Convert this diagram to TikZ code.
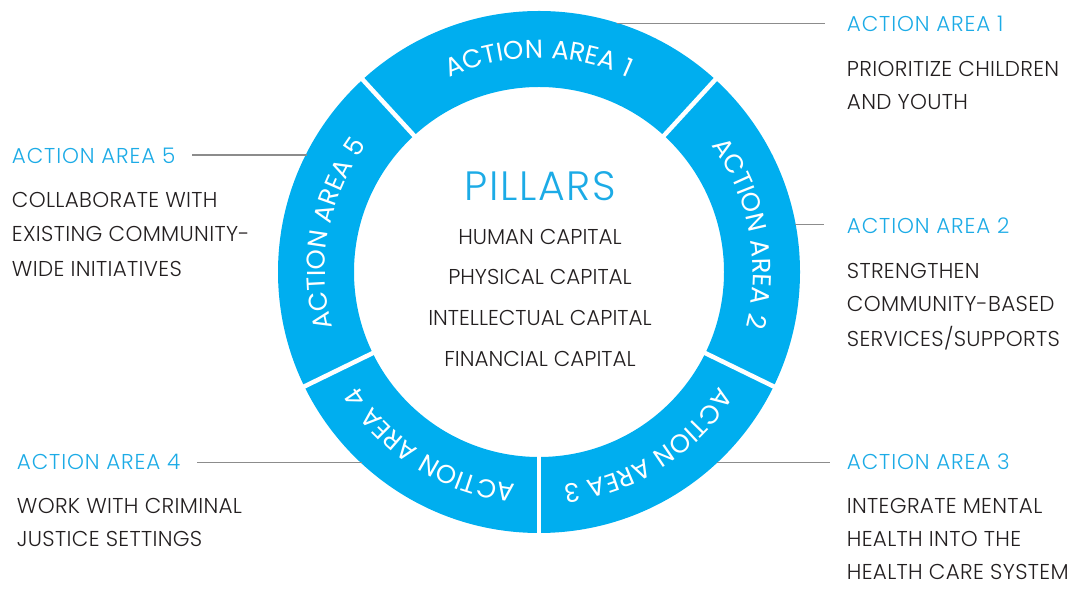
\documentclass[tikz,border=0pt]{standalone}
\usepackage{fontspec}
\setmainfont{Poppins Light}
\newfontfamily\ringfont{Poppins}[LetterSpace=4]
\newfontfamily\headfont{Poppins Light}[LetterSpace=4]
\newfontfamily\bodyfont{Poppins Light}[LetterSpace=1.5]
\newfontfamily\pillfont{Poppins Light}
\usetikzlibrary{calc,decorations.text}
\definecolor{ringblue}{HTML}{00AEEF}
\definecolor{headblue}{HTML}{1CABE6}
\definecolor{leadgray}{HTML}{8C8C8C}
\definecolor{bodytext}{HTML}{231F20}
\tikzset{
  ringtext/.style={decorate,decoration={text along path,text align=center,
     text={|\ringfont\fontsize{25.8}{25.8}\selectfont\color{white}|#1}}},
  header/.style={anchor=base west,inner sep=0pt,text=headblue,font=\headfont\fontsize{21.5}{21.5}\selectfont},
  bodyline/.style={anchor=base west,inner sep=0pt,text=bodytext,font=\bodyfont\fontsize{21.5}{21.5}\selectfont},
  pillar/.style={anchor=base,inner sep=0pt,text=bodytext,font=\pillfont\fontsize{21.5}{21.5}\selectfont},
  pillarhead/.style={anchor=base,inner sep=0pt,text=headblue,font=\headfont\fontsize{41}{41}\selectfont},
  lead/.style={draw=leadgray,line width=1.3pt},
  sep/.style={draw=white,line width=4.5pt}
}
\begin{document}
\begin{tikzpicture}[x=1pt,y=1pt]
\useasboundingbox (0,0) rectangle (1068,589);
\coordinate (c) at (539,317);
% ring
\fill[ringblue,even odd rule] (c) circle[radius=261] (c) circle[radius=185];
\foreach \a in {47.5,132.5,206,270,334}
  \draw[sep] ($(c)+(\a:180)$) -- ($(c)+(\a:266)$);
% ring labels (clockwise, letters outward)
\path[ringtext={ACTION AREA 1}] ($(c)+(132.5:214)$) arc[start angle=132.5,end angle=47.5,radius=214];
\path[ringtext={ACTION AREA 2}] ($(c)+(47.5:214)$) arc[start angle=47.5,end angle=-26,radius=214];
\path[ringtext={ACTION AREA 3}] ($(c)+(-26:214)$) arc[start angle=-26,end angle=-90,radius=214];
\path[ringtext={ACTION AREA 4}] ($(c)+(-90:214)$) arc[start angle=-90,end angle=-154,radius=214];
\path[ringtext={ACTION AREA 5}] ($(c)+(-154:214)$) arc[start angle=-154,end angle=-227.5,radius=214];
% center
\node[pillarhead] (pil) at (540,388) {PILLARS};
\node[pillar] (p1) at (540,344) {HUMAN CAPITAL};
\node[pillar] (p2) at (540,304) {PHYSICAL CAPITAL};
\node[pillar] (p3) at (540,263) {INTELLECTUAL CAPITAL};
\node[pillar] (p4) at (540,222) {FINANCIAL CAPITAL};
% action area 1
\node[header] (h1) at (846.7,557.3) {ACTION AREA 1};
\node[bodyline] (b1a) at (846.7,512.3) {PRIORITIZE CHILDREN};
\node[bodyline] (b1b) at (846.7,479) {AND YOUTH};
% action area 2
\node[header] (h2) at (846.7,355) {ACTION AREA 2};
\node[bodyline] (b2a) at (846.7,310.7) {STRENGTHEN};
\node[bodyline] (b2b) at (846.7,277.3) {COMMUNITY-BASED};
\node[bodyline] (b2c) at (846.7,242.3) {SERVICES/SUPPORTS};
% action area 3
\node[header] (h3) at (846.7,119) {ACTION AREA 3};
\node[bodyline] (b3a) at (846.7,75) {INTEGRATE MENTAL};
\node[bodyline] (b3b) at (846.7,42) {HEALTH INTO THE};
\node[bodyline] (b3c) at (846.7,9) {HEALTH CARE SYSTEM};
% action area 4
\node[header] (h4) at (16.7,119) {ACTION AREA 4};
\node[bodyline] (b4a) at (16.7,75) {WORK WITH CRIMINAL};
\node[bodyline] (b4b) at (16.7,42) {JUSTICE SETTINGS};
% action area 5
\node[header] (h5) at (11.7,425.7) {ACTION AREA 5};
\node[bodyline] (b5a) at (11.7,381) {COLLABORATE WITH};
\node[bodyline] (b5b) at (11.7,347.3) {EXISTING COMMUNITY-};
\node[bodyline] (b5c) at (11.7,312.3) {WIDE INITIATIVES};
% leader lines
\coordinate (r1) at (617,565.7);  \coordinate (q1) at (825,565.7);
\coordinate (r2) at (795,364.7);  \coordinate (q2) at (824,364.7);
\coordinate (r3) at (716.5,126.3); \coordinate (q3) at (830,126.3);
\coordinate (r4) at (361.5,126.3); \coordinate (q4) at (196.7,126.3);
\coordinate (r5) at (306.5,434);  \coordinate (q5) at (192,434);
\draw[lead] (r1) -- (q1);
\draw[lead] (r2) -- (q2);
\draw[lead] (r3) -- (q3);
\draw[lead] (r4) -- (q4);
\draw[lead] (r5) -- (q5);
\end{tikzpicture}
\end{document}
